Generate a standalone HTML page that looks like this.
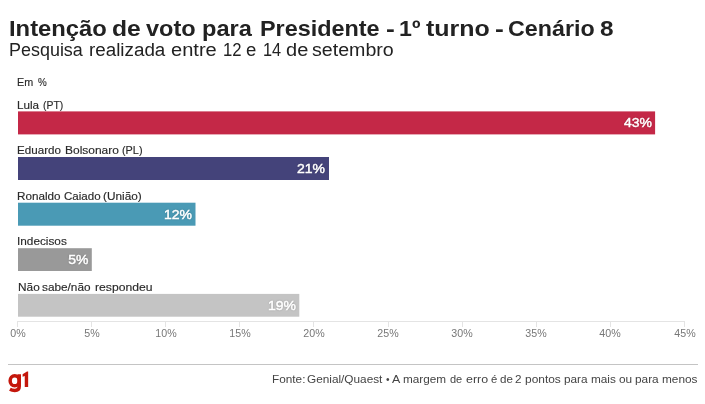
<!DOCTYPE html>
<html><head><meta charset="utf-8">
<style>
html,body{margin:0;padding:0;background:#fff;}
body{width:705px;height:404px;position:relative;overflow:hidden;font-family:"Liberation Sans",sans-serif;}
.t{position:absolute;white-space:nowrap;line-height:1;transform-origin:0 0;}
.ti{top:17.5px;font-size:22px;font-weight:bold;color:#222;}
.su{top:41.6px;font-size:17.6px;color:#222;}
.lab{font-size:11px;color:#2a2a2a;-webkit-text-stroke:0.15px #2a2a2a;}
.val{font-size:13.5px;font-weight:normal;-webkit-text-stroke:0.45px #fff;transform-origin:100% 0;transform:scaleX(1.035);color:#fff;text-shadow:0 0 2px rgba(0,0,0,.35);text-align:right;}
.tick{font-size:11px;color:#777;text-align:center;top:328px;transform-origin:50% 0;transform:scaleX(0.97);}
.sr{font-size:11px;color:#444;top:374px;}
svg{position:absolute;left:0;top:0;}
</style></head><body>
<svg width="705" height="404" viewBox="0 0 705 404">
<rect x="18" y="111.4" width="637.1" height="23" fill="#c42847"/>
<rect x="18" y="157" width="311" height="23" fill="#44437a"/>
<rect x="18" y="202.7" width="177.5" height="23" fill="#4a9ab5"/>
<rect x="18" y="248.2" width="73.8" height="22.8" fill="#999999"/>
<rect x="18" y="293.9" width="281.3" height="22.8" fill="#c4c4c4"/>
<g stroke="#e4e4e4" stroke-width="1" fill="none">
<path d="M17 321.5H685"/>
<path d="M17.5 321v6M91.5 321v6M165.5 321v6M239.5 321v6M313.5 321v6M388.5 321v6M462.5 321v6M536.5 321v6M610.5 321v6M684.5 321v6"/>
</g>
<path d="M8 364.5H698" stroke="#c4c4c4" stroke-width="1"/>
<g id="g1" fill="none" stroke="#c4170c" stroke-width="3.5">
<ellipse cx="14.69" cy="380.73" rx="4.55" ry="5.1"/>
<path d="M19.25 374.3V386.2Q19.25 390.4 14.8 390.4Q12 390.4 9.9 389.3"/>
</g>
<path fill="#c4170c" d="M28.16 371.5H26.97L22.6 374.3V376.7L24.75 375.9V387H28.16Z"/>
</svg>
<div id="txt" style="position:absolute;left:0;top:0;width:705px;height:404px;will-change:transform">
<span class="t ti" style="left:8.81px;transform:scaleX(1.081)">Intenção</span>
<span class="t ti" style="left:112.28px;transform:scaleX(1.120)">de</span>
<span class="t ti" style="left:146.22px;transform:scaleX(1.070)">voto</span>
<span class="t ti" style="left:202.02px;transform:scaleX(1.072)">para</span>
<span class="t ti" style="left:259.75px;transform:scaleX(1.063)">Presidente</span>
<span class="t ti" style="left:386.10px;transform:scaleX(1.200)">-</span>
<span class="t ti" style="left:399.04px;transform:scaleX(1.055)">1º</span>
<span class="t ti" style="left:425.90px;transform:scaleX(1.135)">turno</span>
<span class="t ti" style="left:494.80px;transform:scaleX(1.200)">-</span>
<span class="t ti" style="left:507.74px;transform:scaleX(1.058)">Cenário</span>
<span class="t ti" style="left:600.17px;transform:scaleX(1.105)">8</span>
<span class="t su" style="left:8.54px;transform:scaleX(1.020)">Pesquisa</span>
<span class="t su" style="left:88.74px;transform:scaleX(1.069)">realizada</span>
<span class="t su" style="left:170.58px;transform:scaleX(1.141)">entre</span>
<span class="t su" style="left:223.33px;transform:scaleX(0.947)">12</span>
<span class="t su" style="left:246.45px;transform:scaleX(1.057)">e</span>
<span class="t su" style="left:263.16px;transform:scaleX(0.929)">14</span>
<span class="t su" style="left:285.92px;transform:scaleX(1.138)">de</span>
<span class="t su" style="left:312.34px;transform:scaleX(1.115)">setembro</span>
<span class="t lab" style="left:17.38px;top:77px;transform:scaleX(0.980)">Em</span>
<span class="t lab" style="left:37.65px;top:77px;transform:scaleX(0.894)">%</span>
<span class="t lab" style="left:17.33px;top:100px;transform:scaleX(1.061)">Lula</span>
<span class="t lab" style="left:42.73px;top:100px;transform:scaleX(0.946)">(PT)</span>
<span class="t lab" style="left:17.48px;top:145px;transform:scaleX(1.056)">Eduardo</span>
<span class="t lab" style="left:64.86px;top:145px;transform:scaleX(1.088)">Bolsonaro</span>
<span class="t lab" style="left:121.81px;top:145px;transform:scaleX(0.986)">(PL)</span>
<span class="t lab" style="left:17.28px;top:191px;transform:scaleX(1.063)">Ronaldo</span>
<span class="t lab" style="left:64.06px;top:191px;transform:scaleX(1.049)">Caiado</span>
<span class="t lab" style="left:103.17px;top:191px;transform:scaleX(1.073)">(União)</span>
<span class="t lab" style="left:17.18px;top:236px;transform:scaleX(1.071)">Indecisos</span>
<span class="t lab" style="left:17.57px;top:282px;transform:scaleX(1.076)">Não</span>
<span class="t lab" style="left:42.48px;top:282px;transform:scaleX(1.072)">sabe/não</span>
<span class="t lab" style="left:94.55px;top:282px;transform:scaleX(1.105)">respondeu</span>
<span class="t val" id="v1" style="right:53px;top:116px">43%</span>
<span class="t val" id="v2" style="right:379.5px;top:161.6px">21%</span>
<span class="t val" id="v3" style="right:513px;top:207.6px">12%</span>
<span class="t val" id="v4" style="right:616.5px;top:252.8px">5%</span>
<span class="t val" id="v5" style="right:408.7px;top:298.6px">19%</span>
<span class="t tick" style="left:-2.5px;width:40px">0%</span>
<span class="t tick" style="left:71.6px;width:40px">5%</span>
<span class="t tick" style="left:145.7px;width:40px">10%</span>
<span class="t tick" style="left:219.8px;width:40px">15%</span>
<span class="t tick" style="left:293.9px;width:40px">20%</span>
<span class="t tick" style="left:368.1px;width:40px">25%</span>
<span class="t tick" style="left:442.2px;width:40px">30%</span>
<span class="t tick" style="left:516.3px;width:40px">35%</span>
<span class="t tick" style="left:590.4px;width:40px">40%</span>
<span class="t tick" style="left:664.5px;width:40px">45%</span>
<span class="t sr" style="left:271.74px;transform:scaleX(1.071)">Fonte:</span>
<span class="t sr" style="left:307.18px;transform:scaleX(1.072)">Genial/Quaest</span>
<span class="t sr" style="left:385.96px;transform:scaleX(0.928)">•</span>
<span class="t sr" style="left:391.98px;transform:scaleX(1.125)">A</span>
<span class="t sr" style="left:402.81px;transform:scaleX(1.068)">margem</span>
<span class="t sr" style="left:449.90px;transform:scaleX(1.000)">de</span>
<span class="t sr" style="left:465.52px;transform:scaleX(1.130)">erro</span>
<span class="t sr" style="left:490.98px;transform:scaleX(1.023)">é</span>
<span class="t sr" style="left:499.57px;transform:scaleX(1.054)">de</span>
<span class="t sr" style="left:515.41px;transform:scaleX(1.064)">2</span>
<span class="t sr" style="left:525.13px;transform:scaleX(1.083)">pontos</span>
<span class="t sr" style="left:564.24px;transform:scaleX(1.071)">para</span>
<span class="t sr" style="left:590.80px;transform:scaleX(1.070)">mais</span>
<span class="t sr" style="left:618.95px;transform:scaleX(1.077)">ou</span>
<span class="t sr" style="left:635.14px;transform:scaleX(1.075)">para</span>
<span class="t sr" style="left:662.10px;transform:scaleX(1.075)">menos</span>
</div>
</body></html>
